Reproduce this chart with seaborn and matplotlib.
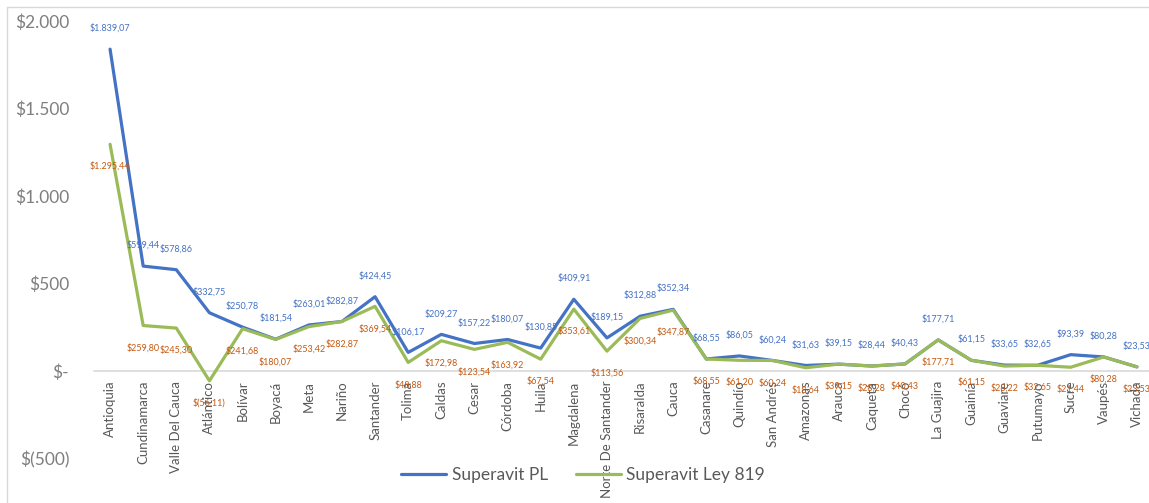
import matplotlib
matplotlib.use("Agg")
import matplotlib.pyplot as plt
from matplotlib import ticker as mtick
import pandas as pd
import seaborn as sns

departamentos = ['Antioquia', 'Cundinamarca', 'Valle Del Cauca', 'Atlántico',
                 'Bolívar', 'Boyacá', 'Meta', 'Nariño', 'Santander', 'Tolima',
                 'Caldas', 'Cesar', 'Córdoba', 'Huila', 'Magdalena',
                 'Norte De Santander', 'Risaralda', 'Cauca', 'Casanare',
                 'Quindío', 'San Andrés', 'Amazonas', 'Arauca', 'Caquetá',
                 'Chocó', 'La Guajira', 'Guainía', 'Guaviare', 'Putumayo',
                 'Sucre', 'Vaupés', 'Vichada']

superavit_pl = [1839.07, 599.44, 578.86, 332.75, 250.78, 181.54, 263.01,
                282.87, 424.45, 106.17, 209.27, 157.22, 180.07, 130.85,
                409.91, 189.15, 312.88, 352.34, 68.55, 86.05, 60.24, 31.63,
                39.15, 28.44, 40.43, 177.71, 61.15, 33.65, 32.65, 93.39,
                80.28, 23.53]

superavit_ley = [1295.44, 259.80, 245.30, -56.11, 241.68, 180.07, 253.42,
                 282.87, 369.54, 48.88, 172.98, 123.54, 163.92, 67.54,
                 353.61, 113.56, 300.34, 347.87, 68.55, 61.20, 60.24, 18.64,
                 39.15, 28.28, 40.43, 177.71, 61.15, 28.22, 32.65, 21.44,
                 80.28, 23.53]

series_names = ['Superavit PL', 'Superavit Ley 819']
line_colors = ['#4472C4', '#9BBB59']
label_colors = ['#4472C4', '#C55A11']


def pesos(v):
    # formato contable: $1.839,07 / $(56,11)
    s = f"{abs(v):,.2f}".replace(',', 'X').replace('.', ',').replace('X', '.')
    return f"$({s})" if v < 0 else f"${s}"


def pesos_eje(v, pos):
    if v == 0:
        return '$-'
    s = f"{abs(v):,.0f}".replace(',', '.')
    return f"$({s})" if v < 0 else f"${s}"


df = pd.DataFrame({'Departamento': departamentos * 2,
                   'Valor': superavit_pl + superavit_ley,
                   'Serie': [series_names[0]] * len(departamentos)
                   + [series_names[1]] * len(departamentos)})

sns.set_theme(style='white')
plt.rcParams['font.family'] = ['Lato', 'DejaVu Sans']

W, H = 1149, 503
fig = plt.figure(figsize=(W / 100, H / 100), dpi=100)
ax = fig.add_axes([93.5 / W, (H - 458.5) / H, 1060 / W, (458.5 - 21) / H])

sns.lineplot(data=df, x='Departamento', y='Valor', hue='Serie', sort=False,
             palette=line_colors, linewidth=2.3, ax=ax)

handles, labels = ax.get_legend_handles_labels()
ax.get_legend().remove()

ax.set_xlim(-0.5, len(departamentos) - 0.5)
ax.set_ylim(-500, 2000)
ax.yaxis.set_major_locator(mtick.MultipleLocator(500))
ax.yaxis.set_major_formatter(mtick.FuncFormatter(pesos_eje))
ax.set_xlabel('')
ax.set_ylabel('')

for side in ['top', 'right', 'left']:
    ax.spines[side].set_visible(False)
ax.spines['bottom'].set_position(('data', 0))
ax.spines['bottom'].set_color('#D9D9D9')
ax.spines['bottom'].set_linewidth(1.2)
ax.spines['bottom'].set_zorder(0)

ax.tick_params(axis='x', length=0, pad=7, labelsize=9.5, labelcolor='#595959',
               labelrotation=90)
ax.tick_params(axis='y', length=0, pad=17.5, labelsize=12.5, labelcolor='#7F7F7F')
for t in ax.get_xticklabels():
    t.set_verticalalignment('top')

# etiquetas de datos: PL encima, Ley 819 debajo
for i in range(len(departamentos)):
    ax.annotate(pesos(superavit_pl[i]), (i, superavit_pl[i]),
                xytext=(0, 15), textcoords='offset points', ha='center',
                va='center', fontsize=6.5, color=label_colors[0])
    ax.annotate(pesos(superavit_ley[i]), (i, superavit_ley[i]),
                xytext=(0, -16), textcoords='offset points', ha='center',
                va='center', fontsize=6.5, color=label_colors[1])

fig.legend(handles, labels, loc='center', ncol=2, frameon=False,
           bbox_to_anchor=(583 / W, 1 - 475 / H), fontsize=12.5,
           handlelength=2.6, handletextpad=0.3, columnspacing=1.6,
           labelcolor='#595959')

# marco del grafico
fig.add_artist(plt.Line2D([7 / W, 7 / W], [0, 1 - 7 / H], transform=fig.transFigure,
                          color='#D9D9D9', lw=1))
fig.add_artist(plt.Line2D([7 / W, 1], [1 - 7 / H, 1 - 7 / H], transform=fig.transFigure,
                          color='#D9D9D9', lw=1))

fig.savefig('out.png', dpi=100)
